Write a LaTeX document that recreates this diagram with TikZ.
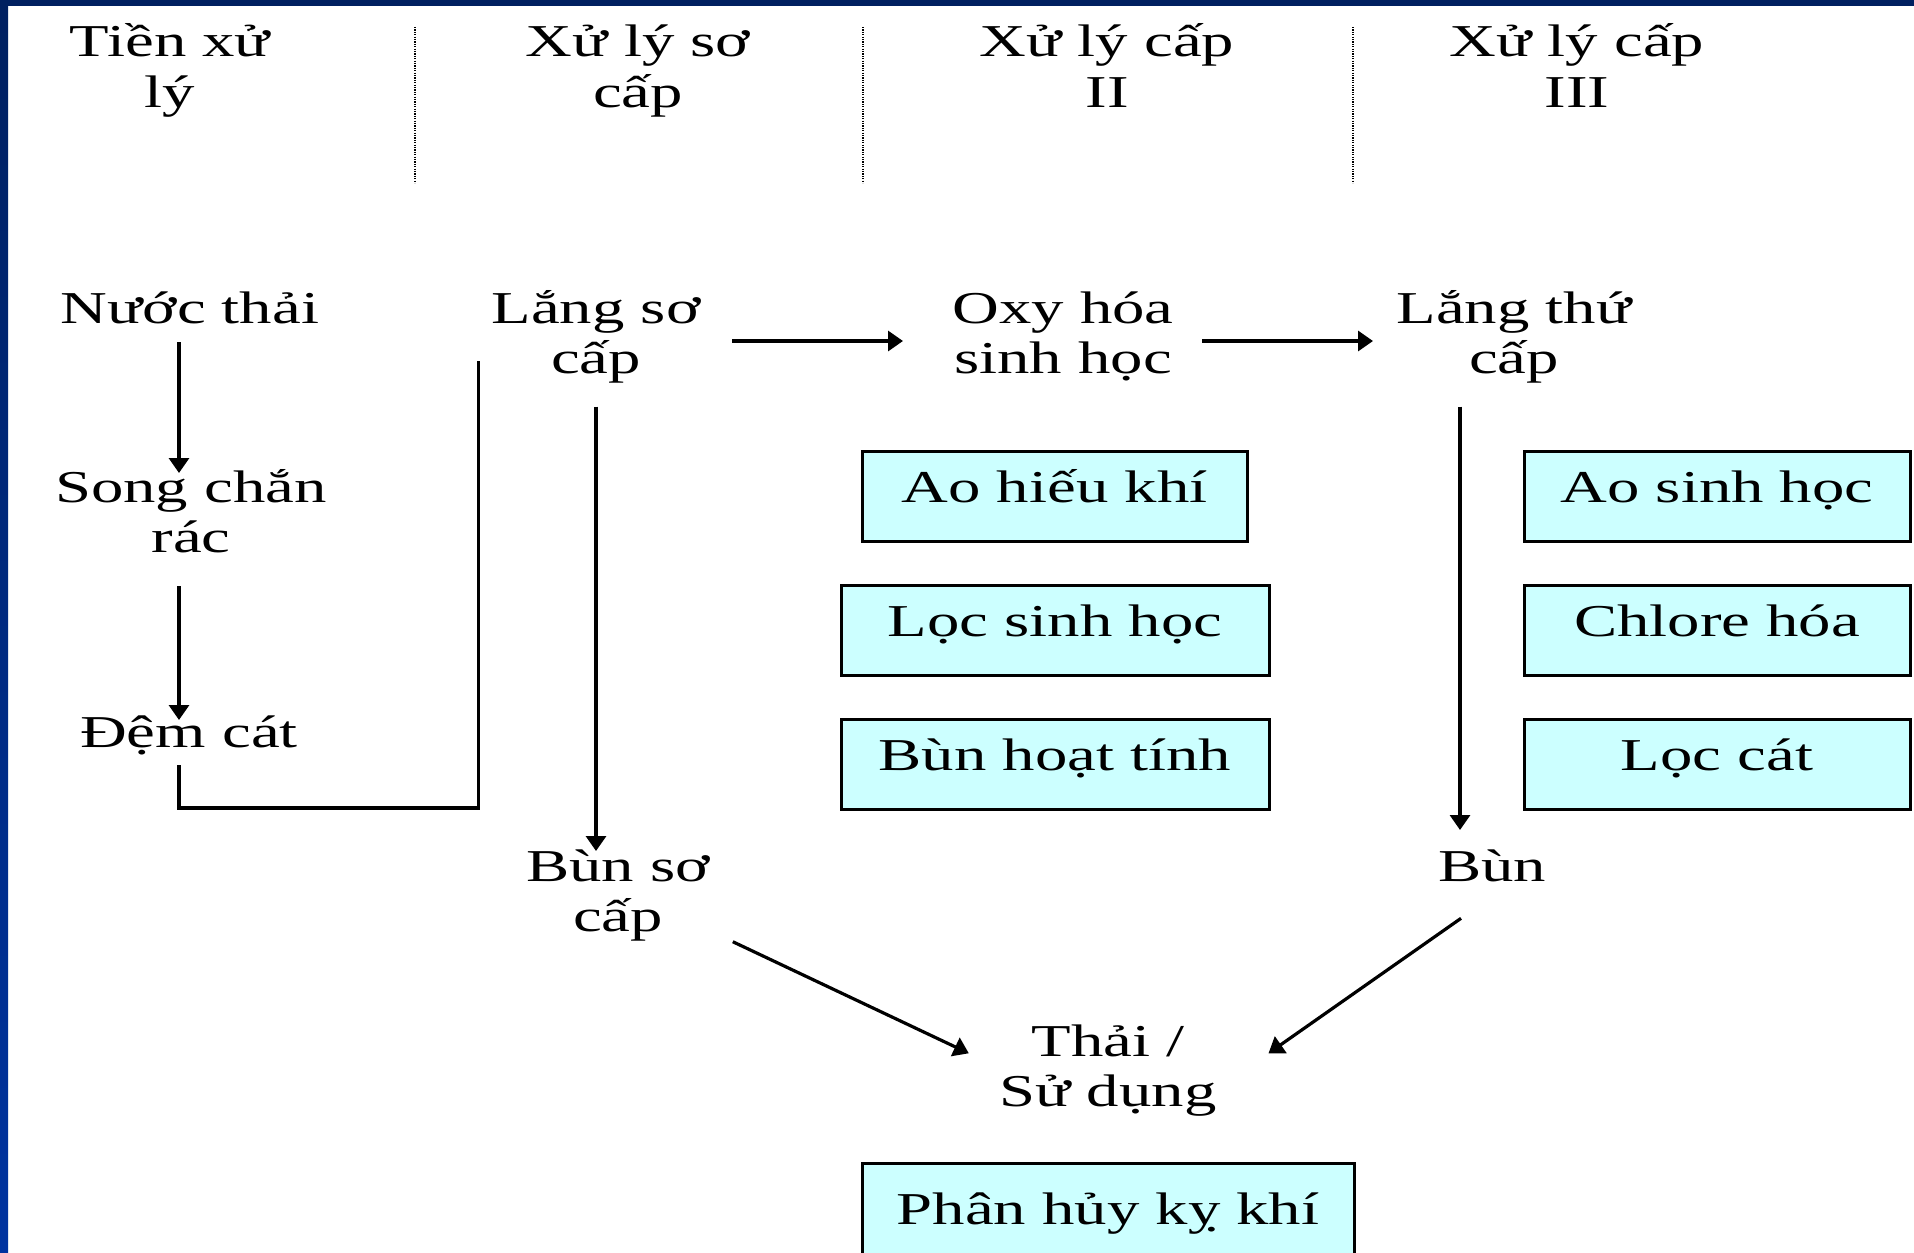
\documentclass[tikz,border=0pt]{standalone}
\usepackage{fontspec}
\setmainfont{Liberation Serif}[FakeStretch=1.42]
\usetikzlibrary{arrows.meta}
\definecolor{boxcyan}{HTML}{CCFFFF}
\definecolor{navytop}{HTML}{002060}
\definecolor{navybot}{HTML}{0033A0}
\newcommand{\diagfont}{\fontsize{22.8pt}{25pt}\selectfont}
\tikzset{
  lbl/.style={anchor=base, align=center, inner sep=0pt, font=\diagfont},
  procbox/.style={draw, line width=1.5pt, fill=boxcyan, inner sep=0pt,
    text height=16pt, text depth=10pt, font=\diagfont},
  arr/.style={line width=1.6pt, -{Triangle[length=7.5pt,width=10pt]}},
  ln/.style={line width=1.6pt},
  sep/.style={line width=0.7pt, dash pattern=on 0.6pt off 0.6pt}
}
\begin{document}
\begin{tikzpicture}[x=0.5pt,y=-0.5pt]
\useasboundingbox (0,0) rectangle (1914,1252);
\fill[white] (0,0) rectangle (1914,1252);
\shade[top color=navytop,bottom color=navybot] (0,0) rectangle (8,1252);
\fill[navytop] (0,0) rectangle (1914,6);

% column separators
\draw[sep] (415,27) -- (415,183);
\draw[sep] (863,27) -- (863,183);
\draw[sep] (1353,27) -- (1353,183);

% headers (base anchor = baseline of the last line)
\node[lbl] (h1) at (170,107) {Tiền xử\\lý};
\node[lbl] (h2) at (638,107) {Xử lý sơ\\cấp};
\node[lbl] (h3) at (1107,107) {Xử lý cấp\\II};
\node[lbl] (h4) at (1577,107) {Xử lý cấp\\III};

% text nodes
\node[lbl] (nuoc) at (190,323) {Nước thải};
\node[lbl] (song) at (191,552) {Song chắn\\rác};
\node[lbl] (dem) at (189,747) {Đệm cát};
\node[lbl] (lang1) at (596,373) {Lắng sơ\\cấp};
\node[lbl] (oxy) at (1063,373) {Oxy hóa\\sinh học};
\node[lbl] (lang2) at (1514,373) {Lắng thứ\\cấp};
\node[lbl] (bunsc) at (618,931) {Bùn sơ\\cấp};
\node[lbl] (bun) at (1492,881) {Bùn};
\node[lbl] (thai) at (1108,1106) {Thải /\\Sử dụng};

% boxes
\node[procbox, minimum width=192.5pt, minimum height=45pt] (aohk) at (1054.5,496) {Ao hiếu khí};
\node[procbox, minimum width=214pt, minimum height=45pt] (locsh) at (1055,630) {Lọc sinh học};
\node[procbox, minimum width=214pt, minimum height=45pt] (bunht) at (1055,764) {Bùn hoạt tính};
\node[procbox, minimum width=193pt, minimum height=45pt] (aosh) at (1717,496) {Ao sinh học};
\node[procbox, minimum width=193pt, minimum height=45pt] (chlore) at (1717,630) {Chlore hóa};
\node[procbox, minimum width=193pt, minimum height=45pt] (loccat) at (1717,764) {Lọc cát};
\node[procbox, minimum width=246pt, minimum height=55pt] (phanhuy) at (1108,1218) {Phân hủy kỵ khí};

% connectors
\draw[arr] ([shift={(-11,19)}]nuoc.base) -- ([shift={(-12,-79)}]song.base);
\draw[arr] ([shift={(-12,34)}]song.base) -- ([shift={(-10,-27)}]dem.base);
\draw[ln] ([shift={(-10,18)}]dem.base) -- ++(0,43) -| ([shift={(-117.5,-12)}]lang1.base);
\draw[arr] ([shift={(136,-32)}]lang1.base) -- ([shift={(-160,-32)}]oxy.base);
\draw[arr] ([shift={(139,-32)}]oxy.base) -- ([shift={(-141,-32)}]lang2.base);
\draw[arr] ([shift={(0,33.5)}]lang1.base) -- ([shift={(-22,-80)}]bunsc.base);
\draw[arr] ([shift={(-54,33.5)}]lang2.base) -- ([shift={(-32,-51)}]bun.base);
\draw[arr] ([shift={(114.8,10.7)}]bunsc.base) -- ([shift={(-139.2,-52.7)}]thai.base);
\draw[arr] ([shift={(-31,37.3)}]bun.base) -- ([shift={(160.5,-52.7)}]thai.base);
\end{tikzpicture}
\end{document}
